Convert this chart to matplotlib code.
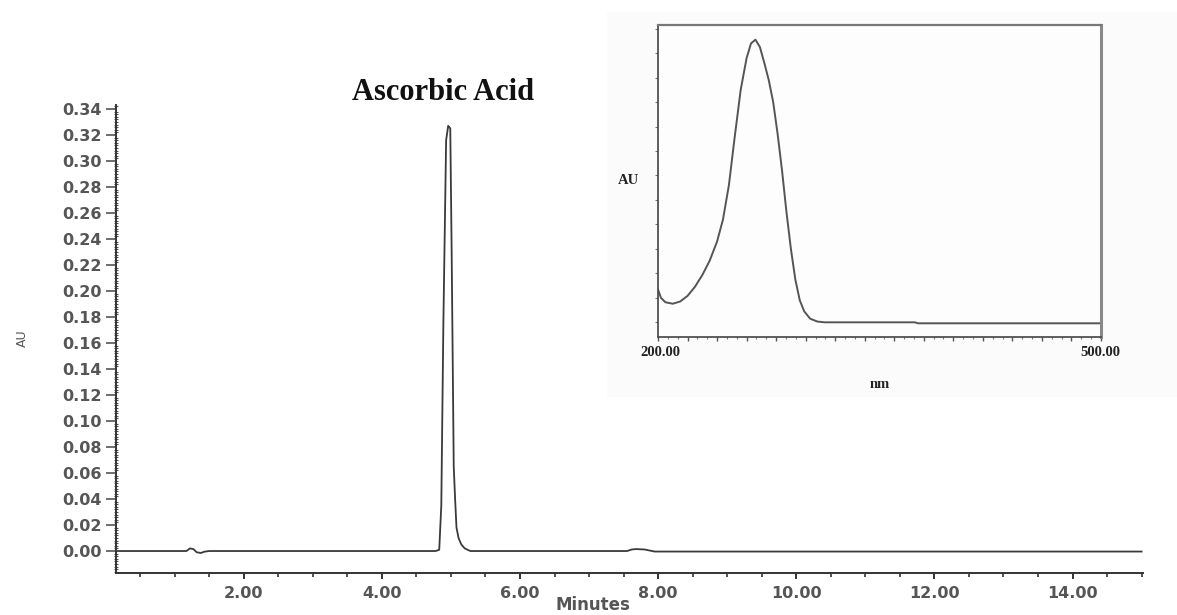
import matplotlib
matplotlib.use("Agg")
import matplotlib.pyplot as plt
from matplotlib.ticker import MultipleLocator, FormatStrFormatter, NullFormatter, FixedLocator

# ---------------- data ----------------
# chromatogram (minutes, AU)
chrom_time = [0.15, 1.10, 1.17, 1.22, 1.27, 1.32, 1.38, 1.43, 1.50, 3.00, 4.60, 4.78,
              4.83, 4.86, 4.89, 4.93, 4.96, 4.99, 5.01, 5.04, 5.06, 5.08, 5.11, 5.15,
              5.20, 5.28, 5.50, 7.00, 7.55, 7.62, 7.68, 7.80, 7.95, 9.00, 12.00, 15.00]
chrom_au = [0.0, 0.0, 0.0, 0.002, 0.0015, -0.001, -0.0015, -0.0005, 0.0, 0.0, 0.0, 0.0,
            0.001, 0.035, 0.175, 0.316, 0.327, 0.325, 0.230, 0.065, 0.040, 0.018, 0.010,
            0.005, 0.002, 0.0, 0.0, 0.0, 0.0, 0.0012, 0.0015, 0.0012, -0.0004, -0.0004,
            -0.0004, -0.0004]

y_ticks = [0.00, 0.02, 0.04, 0.06, 0.08, 0.10, 0.12, 0.14, 0.16, 0.18, 0.20, 0.22,
           0.24, 0.26, 0.28, 0.30, 0.32, 0.34]
x_ticks = [2.0, 4.0, 6.0, 8.0, 10.0, 12.0, 14.0]

# UV spectrum inset (nm, relative AU)
spec_nm = [200, 202, 205, 210, 215, 220, 225, 230, 235, 240, 244, 248, 252, 256, 260,
           263, 266, 269, 272, 275, 278, 281, 284, 287, 290, 293, 296, 299, 303, 308,
           313, 374, 376, 500]
spec_au = [0.134, 0.100, 0.082, 0.076, 0.085, 0.108, 0.145, 0.193, 0.252, 0.330, 0.420,
           0.560, 0.760, 0.950, 1.080, 1.140, 1.155, 1.125, 1.060, 0.990, 0.900, 0.770,
           0.620, 0.450, 0.300, 0.175, 0.090, 0.045, 0.015, 0.003, 0.0, 0.0, -0.004,
           -0.004]

peak_label = "Ascorbic Acid"

# ---------------- figure ----------------
W, H = 1177, 615
fig = plt.figure(figsize=(W / 100, H / 100), dpi=100)

def fx(px):
    return px / W

def fy(py):
    return (H - py) / H

# main axes
ax = fig.add_axes([fx(116), fy(573), fx(1143) - fx(116), fy(105) - fy(573)])
ax.plot(chrom_time, chrom_au, color="#3a3a3a", lw=1.3)
ax.set_xlim(0.15, 15.02)
ax.set_ylim(-0.0169, 0.343)
for s in ("top", "right"):
    ax.spines[s].set_visible(False)
for s in ("left", "bottom"):
    ax.spines[s].set_color("#333333")
    ax.spines[s].set_linewidth(1.4)

ax.yaxis.set_major_locator(FixedLocator(y_ticks))
ax.yaxis.set_major_formatter(FormatStrFormatter("%.2f"))
ax.yaxis.set_minor_locator(MultipleLocator(0.002))
ax.xaxis.set_major_locator(FixedLocator(x_ticks))
ax.xaxis.set_major_formatter(FormatStrFormatter("%.2f"))
ax.xaxis.set_minor_locator(MultipleLocator(0.5))

lab_kw = dict(labelsize=11.5, labelcolor="#555555")
ax.tick_params(axis="y", which="major", direction="out", length=7, width=1.2,
               color="#555555", pad=3, **lab_kw)
ax.tick_params(axis="y", which="minor", direction="inout", length=3, width=0.8,
               color="#555555")
ax.tick_params(axis="x", which="major", direction="out", length=4, width=1.4,
               color="#333333", pad=5, **lab_kw)
ax.tick_params(axis="x", which="minor", direction="out", length=3, width=1.2,
               color="#333333")
for lbl in ax.get_xticklabels() + ax.get_yticklabels():
    lbl.set_fontweight("bold")

fig.text(fx(593), fy(605), "Minutes", fontsize=12, fontweight="bold", color="#555555",
         ha="center", va="center")
fig.text(fx(22), fy(338), "AU", rotation=90, fontsize=9, color="#555555",
         ha="center", va="center")

fig.text(fx(443), fy(93), peak_label, fontsize=22, fontweight="bold",
         family="Liberation Serif", ha="center", va="center", color="#111111")

# inset background
bg = fig.add_axes([fx(607), fy(397), fx(1177) - fx(607), fy(12) - fy(397)])
bg.set_facecolor("#fbfbfb")
bg.set_xticks([])
bg.set_yticks([])
for s in bg.spines.values():
    s.set_visible(False)

# inset axes
ins = fig.add_axes([fx(658), fy(337), fx(1101) - fx(658), fy(25) - fy(337)])
ins.set_facecolor("#fdfdfd")
ins.plot(spec_nm, spec_au, color="#555555", lw=1.4)
ins.set_xlim(200, 500)
ins.set_ylim(-0.06, 1.215)
for s in ins.spines.values():
    s.set_color("#444444")
    s.set_linewidth(1.2)
ins.spines["right"].set_color("#888888")
ins.spines["right"].set_linewidth(2.2)
ins.spines["top"].set_color("#777777")
ins.spines["top"].set_linewidth(1.6)
ins.xaxis.set_major_locator(MultipleLocator(20))
ins.xaxis.set_minor_locator(MultipleLocator(20 / 3))
ins.xaxis.set_major_formatter(NullFormatter())
ins.yaxis.set_major_locator(MultipleLocator(0.1))
ins.yaxis.set_major_formatter(NullFormatter())
ins.tick_params(axis="x", which="major", direction="out", length=3, width=1, color="#555555")
ins.tick_params(axis="x", which="minor", direction="out", length=1.5, width=0.8, color="#777777")
ins.tick_params(axis="y", which="major", direction="out", length=2, width=0.8, color="#777777")

serif = dict(family="Liberation Serif", fontweight="bold", color="#222222", fontsize=10.5)
fig.text(fx(628), fy(180), "AU", ha="center", va="center", **serif)
fig.text(fx(660), fy(352), "200.00", ha="center", va="center", **serif)
fig.text(fx(1100), fy(352), "500.00", ha="center", va="center", **serif)
fig.text(fx(880), fy(384), "nm", ha="center", va="center", **serif)

fig.savefig("out.png", dpi=100, facecolor="white")
